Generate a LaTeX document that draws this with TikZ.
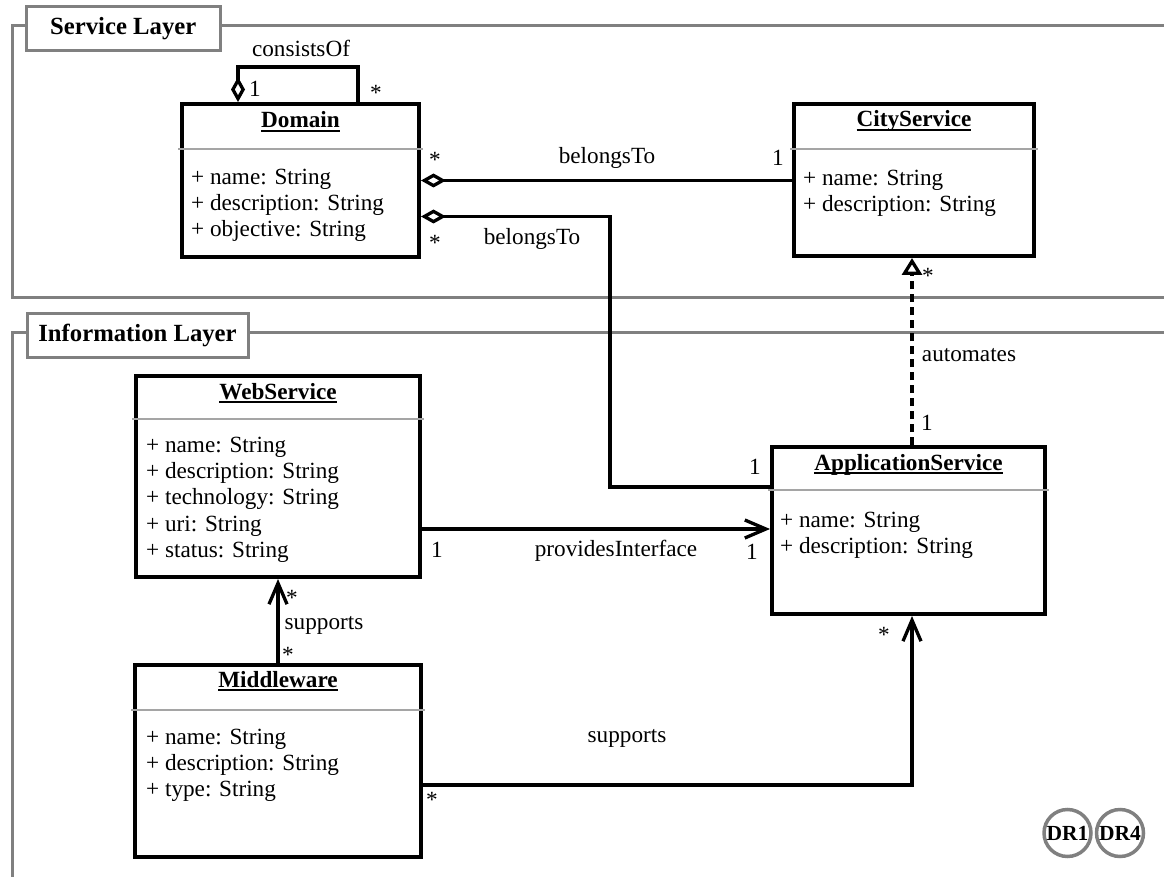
\documentclass[tikz,border=0pt]{standalone}
\usepackage{fontspec}
\setmainfont{Liberation Serif}
\usetikzlibrary{arrows.meta}
\definecolor{framegray}{RGB}{128,128,128}
\definecolor{sepgray}{RGB}{165,165,165}
% underlined class name with a fixed rule below the baseline
\newcommand\clsul[1]{\setbox0\hbox{#1}\rlap{\rule[-3.8pt]{\wd0}{1.6pt}}\box0}
\begin{document}
\begin{tikzpicture}[x=1pt,y=-1pt,
  cls/.style={draw=black,line width=4pt,fill=white,inner sep=0pt,rectangle},
  sepline/.style={draw=sepgray,line width=2.2pt},
  ttl/.style={font=\fontsize{23.2}{26}\selectfont\bfseries,inner sep=0pt,anchor=base},
  attrs/.style={font=\fontsize{23.2}{26.3}\selectfont,align=left,inner sep=0pt,anchor=north west},
  lbl/.style={font=\fontsize{23.2}{26}\selectfont,inner sep=0pt},
  star/.style={lbl,yshift=-3pt},
  layerbox/.style={draw=framegray,line width=3pt,fill=white,inner sep=0pt,
    font=\fontsize{24.7}{28}\selectfont\bfseries},
  frame/.style={draw=framegray,line width=3pt},
  conn/.style={draw=black,line width=3.3pt},
  agg/.style={{Diamond[open,length=25pt,width=14pt]}-},
  nav/.style={-{Straight Barb[length=21pt,width=18pt]}},
  real/.style={-{Triangle[open,length=17pt,width=20pt]}},
  drc/.style={circle,draw=framegray,line width=3.5pt,minimum size=47pt,inner sep=0pt,
    font=\fontsize{21.5}{24}\selectfont\bfseries}
]
\useasboundingbox (0,0) rectangle (1164,877);

% layer frames
\draw[frame] (27,26) -- (12,26) -- (12,297) -- (1166,297);
\draw[frame] (220,26) -- (1166,26);
\node[layerbox,minimum width=193.5pt,minimum height=44.5pt] (svclbl) at (123.25,28.75) {Service Layer};
\draw[frame] (27,332) -- (12,332) -- (12,880);
\draw[frame] (248,332) -- (1166,332);
\node[layerbox,minimum width=221pt,minimum height=44pt] (infolbl) at (137.5,335) {Information Layer};

% classes
\node[cls,minimum width=237pt,minimum height=153pt] (domain) at (300.5,180.5) {};
\draw[sepline] ([xshift=-2pt,yshift=-47pt]domain.north west) -- ([xshift=2pt,yshift=-47pt]domain.north east);
\node[ttl] (domainT) at ([yshift=-26pt]domain.north) {\clsul{Domain}};
\node[attrs] (domainA) at (191,168.8) {+ name: String\\+ description: String\\+ objective: String};

\node[cls,minimum width=240pt,minimum height=152pt] (city) at (914,180) {};
\draw[sepline] ([xshift=-2pt,yshift=-47pt]city.north west) -- ([xshift=2pt,yshift=-47pt]city.north east);
\node[ttl] (cityT) at ([yshift=-25pt]city.north) {\clsul{CityService}};
\node[attrs] (cityA) at (803,169.8) {+ name: String\\+ description: String};

\node[cls,minimum width=284pt,minimum height=201pt] (web) at (278,476.5) {};
\draw[sepline] ([xshift=-2pt,yshift=-45pt]web.north west) -- ([xshift=2pt,yshift=-45pt]web.north east);
\node[ttl] (webT) at ([yshift=-25pt]web.north) {\clsul{WebService}};
\node[attrs] (webA) at (146,436.8) {+ name: String\\+ description: String\\+ technology: String\\+ uri: String\\+ status: String};

\node[cls,minimum width=273pt,minimum height=167pt] (app) at (908.5,530.5) {};
\draw[sepline] ([xshift=-2pt,yshift=-45pt]app.north west) -- ([xshift=2pt,yshift=-45pt]app.north east);
\node[ttl] (appT) at ([yshift=-25pt]app.north) {\clsul{ApplicationService}};
\node[attrs] (appA) at (780,511.8) {+ name: String\\+ description: String};

\node[cls,minimum width=286pt,minimum height=192pt] (mw) at (278,761) {};
\draw[sepline] ([xshift=-2pt,yshift=-47pt]mw.north west) -- ([xshift=2pt,yshift=-47pt]mw.north east);
\node[ttl] (mwT) at ([yshift=-24pt]mw.north) {\clsul{Middleware}};
\node[attrs] (mwA) at (146,728.8) {+ name: String\\+ description: String\\+ type: String};

% associations
\draw[conn,agg] ([xshift=58pt]domain.north west) -- ++(0,-35) -| ([xshift=178pt]domain.north west);
\draw[conn,agg] (domain.east) -- (domain.east -| city.west);
\draw[conn,agg] ([yshift=-36pt]domain.east) -- ++(189,0) |- ([yshift=43.5pt]app.west);
\draw[conn,real,dash pattern=on 8pt off 5pt] ([xshift=3.5pt]app.north) -- ([xshift=3.5pt]app.north |- city.south);
\draw[conn,nav] ([yshift=-52.5pt]web.east) -- ([yshift=-52.5pt]web.east -| app.west);
\draw[conn,nav] (mw.north) -- (web.south);
\draw[conn,nav] ([yshift=-24pt]mw.east) -| ([xshift=3.5pt]app.south);

% association labels and multiplicities
\node[lbl] (lConsists) at (301,48) {consistsOf};
\node[lbl] (mC1) at (255,89) {1};
\node[star] (mC2) at (376,90) {*};
\node[lbl] (lBel1) at (607,158) {belongsTo};
\node[star] (mB1) at (435,157) {*};
\node[lbl] (mB2) at (778,158) {1};
\node[lbl] (lBel2) at (532,239) {belongsTo};
\node[star] (mB3) at (435,240) {*};
\node[lbl] (mB4) at (755,467) {1};
\node[lbl] (lAuto) at (969,355) {automates};
\node[star] (mA1) at (928,273) {*};
\node[lbl] (mA2) at (927,423) {1};
\node[lbl] (lProv) at (616,551) {providesInterface};
\node[lbl] (mP1) at (437,550) {1};
\node[lbl] (mP2) at (752,552) {1};
\node[lbl] (lSup1) at (324,625) {supports};
\node[star] (mS1) at (292,595) {*};
\node[star] (mS2) at (288,652) {*};
\node[lbl] (lSup2) at (627,738) {supports};
\node[star] (mS3) at (432,797) {*};
\node[star] (mS4) at (884,632) {*};

% requirement markers
\node[drc] (dr1) at (1067.5,833) {DR1};
\node[drc] (dr4) at (1120,833) {DR4};
\end{tikzpicture}
\end{document}
